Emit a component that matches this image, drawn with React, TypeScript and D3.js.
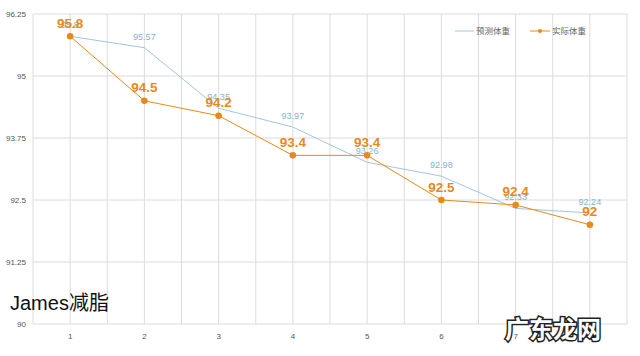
import React from "react";
import * as d3 from "d3";

const categories = ["1", "2", "3", "4", "5", "6", "7", "8"];
const predicted = [95.8, 95.57, 94.35, 93.97, 93.26, 92.98, 92.33, 92.24];
const actual = [95.8, 94.5, 94.2, 93.4, 93.4, 92.5, 92.4, 92];
const yTicks = [90, 91.25, 92.5, 93.75, 95, 96.25];
const seriesNames = ["预测体重", "实际体重"];
const title = "James减脂";
const watermark = "广东龙网";

const W = 640;
const H = 356;
const left = 33;
const right = 627;
const top = 14;
const bottom = 324;

const BLUE = "#9fc8da";
const BLUE_TXT = "#7fb4ca";
const ORANGE = "#e8891b";
const GRID = "#dcdcdc";
const FONT = "'Liberation Sans', Arial, 'Noto Sans CJK SC', sans-serif";

export default function App() {
  const x = d3.scaleBand<string>().domain(categories).range([left, right]).padding(0);
  const bw = x.bandwidth();
  const cx = (c: string) => (x(c) as number) + bw / 2;
  const y = d3.scaleLinear().domain([90, 96.25]).range([bottom, top]);

  const vLines: number[] = [];
  categories.forEach((c) => {
    vLines.push(x(c) as number);
    vLines.push(cx(c));
  });
  vLines.push(right);

  const line = d3
    .line<number>()
    .x((_, i) => cx(categories[i]))
    .y((d) => y(d));

  const fmt = (v: number) => String(v);

  return (
    <svg
      width={W}
      height={H}
      style={{ position: "absolute", left: 0, top: 0, background: "#fff" }}
      fontFamily={FONT}
    >
      <rect x={0} y={0} width={W} height={H} fill="#fff" />
      {yTicks.map((t) => (
        <g key={"y" + t}>
          <line x1={left} x2={right} y1={y(t)} y2={y(t)} stroke={GRID} strokeWidth={1} />
          <text x={left - 7} y={y(t)} dy="0.35em" textAnchor="end" fontSize={8} fill="#555">
            {t}
          </text>
        </g>
      ))}
      {vLines.map((v, i) => (
        <line key={"v" + i} x1={v} x2={v} y1={top} y2={bottom} stroke={GRID} strokeWidth={1} />
      ))}
      {categories.map((c) => (
        <text key={"x" + c} x={cx(c)} y={bottom + 12} dy="0.35em" textAnchor="middle" fontSize={8} fill="#555">
          {c}
        </text>
      ))}

      <path d={line(predicted) || ""} fill="none" stroke={BLUE} strokeWidth={1} />
      <path d={line(actual) || ""} fill="none" stroke={ORANGE} strokeWidth={1} />
      {actual.map((v, i) => (
        <circle key={"pt" + i} cx={cx(categories[i])} cy={y(v)} r={3.3} fill={ORANGE} />
      ))}

      {predicted.map((v, i) => (
        <text
          key={"pl" + i}
          x={cx(categories[i])}
          y={y(v) - 8}
          textAnchor="middle"
          fontSize={9}
          fill={BLUE_TXT}
        >
          {fmt(v)}
        </text>
      ))}
      {actual.map((v, i) => (
        <text
          key={"al" + i}
          x={cx(categories[i])}
          y={y(v) - 8.5}
          textAnchor="middle"
          fontSize={13.5}
          fontWeight="bold"
          fill={ORANGE}
        >
          {fmt(v)}
        </text>
      ))}

      <g>
        <line x1={455} x2={474} y1={31} y2={31} stroke={BLUE} strokeWidth={1} />
        <text x={476} y={31} dy="0.35em" fontSize={8.5} fill="#666">
          {seriesNames[0]}
        </text>
        <line x1={530} x2={550} y1={31} y2={31} stroke={ORANGE} strokeWidth={1} />
        <circle cx={540} cy={31} r={2} fill={ORANGE} />
        <text x={552} y={31} dy="0.35em" fontSize={8.5} fill="#666">
          {seriesNames[1]}
        </text>
      </g>

      <text x={10} y={310} fontSize={20} fill="#111" fontFamily="'Liberation Sans', Arial, 'Noto Sans CJK SC', sans-serif">
        {title}
      </text>

      <text
        x={553}
        y={338}
        textAnchor="middle"
        fontSize={24}
        fontWeight="bold"
        fill="#fff"
        stroke="#222"
        strokeWidth={3}
        paintOrder="stroke"
        fontFamily="'Noto Sans CJK SC', sans-serif"
      >
        {watermark}
      </text>
    </svg>
  );
}
